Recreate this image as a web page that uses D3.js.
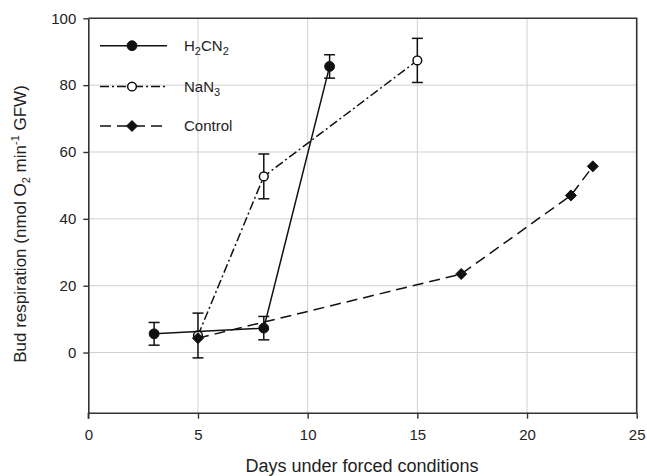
<!DOCTYPE html>
<html><head><meta charset="utf-8">
<script src="https://cdn.jsdelivr.net/npm/d3@7"></script>
<style>body{margin:0;background:#fff}svg{display:block}text{font-family:"Liberation Sans",Arial,sans-serif;fill:#222}</style>
</head><body><div id="chart"></div>
<script>
const xTicks = [0, 5, 10, 15, 20, 25];
const yTicks = [0, 20, 40, 60, 80, 100];
const h2cn2Days = [3, 8, 11];
const h2cn2Values = [5.6, 7.3, 85.6];
const h2cn2Errors = [3.4, 3.5, 3.5];
const nan3Days = [5, 8, 15];
const nan3Values = [5.1, 52.7, 87.4];
const nan3Errors = [6.7, 6.7, 6.6];
const controlDays = [5, 17, 22, 23];
const controlValues = [4.3, 23.5, 47.0, 55.7];
const controlErrors = [0, 0, 0, 0];

const W = 647, H = 476;
const m = {left: 88.3, right: 636.7, top: 18.3, bottom: 412.7};
const svg = d3.select("#chart").append("svg").attr("width", W).attr("height", H);
const x = d3.scaleLinear().domain([0, 25]).range([m.left, m.right]);
const y = d3.scaleLinear().domain([-18, 100]).range([m.bottom, m.top]);

// grid
const grid = svg.append("g").attr("stroke", "#d0d0d0").attr("stroke-width", 1);
grid.selectAll("line.vx").data(xTicks.filter(d => d > 0 && d < 25)).join("line")
  .attr("x1", d => x(d)).attr("x2", d => x(d)).attr("y1", m.top).attr("y2", m.bottom);
grid.selectAll("line.hy").data(yTicks.filter(d => d < 100)).join("line")
  .attr("y1", d => y(d)).attr("y2", d => y(d)).attr("x1", m.left).attr("x2", m.right);

// axes
const axisColor = "#333";
const xAxis = svg.append("g").attr("transform", `translate(0,${m.bottom})`)
  .call(d3.axisBottom(x).tickValues(xTicks).tickSize(6).tickPadding(11).tickSizeOuter(0));
const yAxis = svg.append("g").attr("transform", `translate(${m.left},0)`)
  .call(d3.axisLeft(y).tickValues(yTicks).tickSize(5).tickPadding(7).tickSizeOuter(0));
[xAxis, yAxis].forEach(a => {
  a.select(".domain").attr("stroke", axisColor).attr("stroke-width", 1.6);
  a.selectAll(".tick line").attr("stroke", axisColor).attr("stroke-width", 1.4);
  a.selectAll(".tick text").attr("font-size", 15).attr("fill", "#222")
   .style("font-family", '"Liberation Sans", Arial, sans-serif');
});
svg.append("line").attr("x1", m.left).attr("x2", m.left).attr("y1", m.bottom).attr("y2", m.bottom + 6)
  .attr("stroke", axisColor).attr("stroke-width", 1.4);
svg.append("path").attr("d", `M${m.left},${m.top}H${m.right}V${m.bottom}`)
  .attr("fill", "none").attr("stroke", axisColor).attr("stroke-width", 1.6);

// axis titles
svg.append("text").attr("x", 362).attr("y", 471.5).attr("text-anchor", "middle")
  .attr("font-size", 18).text("Days under forced conditions");
const yt = svg.append("text").attr("transform", `translate(25.5,224) rotate(-90)`)
  .attr("text-anchor", "middle").attr("font-size", 17);
yt.append("tspan").text("Bud respiration (nmol O");
yt.append("tspan").attr("font-size", 11).attr("dy", 4).text("2");
yt.append("tspan").attr("dy", -4).text(" min");
yt.append("tspan").attr("font-size", 11).attr("dy", -7).text("-1");
yt.append("tspan").attr("dy", 7).text(" GFW)");

const ink = "#111";
function series(days, vals, errs, dash, marker) {
  const pts = days.map((d, i) => ({x: d, y: vals[i], e: errs[i]}));
  const g = svg.append("g");
  g.append("path").datum(pts)
    .attr("d", d3.line().x(d => x(d.x)).y(d => y(d.y)))
    .attr("fill", "none").attr("stroke", ink).attr("stroke-width", 1.5)
    .attr("stroke-dasharray", dash);
  const eb = g.selectAll("g.eb").data(pts.filter(d => d.e > 0)).join("g")
    .attr("stroke", ink).attr("stroke-width", 1.5);
  eb.append("line").attr("x1", d => x(d.x)).attr("x2", d => x(d.x))
    .attr("y1", d => y(d.y + d.e)).attr("y2", d => y(d.y - d.e));
  eb.append("line").attr("x1", d => x(d.x) - 5.5).attr("x2", d => x(d.x) + 5.5)
    .attr("y1", d => y(d.y + d.e)).attr("y2", d => y(d.y + d.e));
  eb.append("line").attr("x1", d => x(d.x) - 5.5).attr("x2", d => x(d.x) + 5.5)
    .attr("y1", d => y(d.y - d.e)).attr("y2", d => y(d.y - d.e));
  g.selectAll("path.mk").data(pts).join("path")
    .attr("transform", d => `translate(${x(d.x)},${y(d.y)})`)
    .call(marker);
}
const filledCircle = s => s.attr("d", d3.symbol(d3.symbolCircle, 76)()).attr("fill", ink).attr("stroke", ink);
const openCircle = s => s.attr("d", d3.symbol(d3.symbolCircle, 60)()).attr("fill", "#fff").attr("stroke", ink).attr("stroke-width", 1.5);
const diamond = s => s.attr("d", "M0,-5.5L5.5,0L0,5.5L-5.5,0Z").attr("fill", ink).attr("stroke", ink);

series(nan3Days, nan3Values, nan3Errors, "9,3,2,3", openCircle);
series(controlDays, controlValues, controlErrors, "11,6", diamond);
series(h2cn2Days, h2cn2Values, h2cn2Errors, null, filledCircle);

// legend
const legend = [
  {name: ["H", "2", "CN", "2"], dash: null, mk: filledCircle},
  {name: ["NaN", "3"], dash: "9,3,2,3", mk: openCircle},
  {name: ["Control"], dash: "11,6", mk: diamond}
];
const ly = [45.7, 86.5, 126];
legend.forEach((l, i) => {
  const g = svg.append("g");
  g.append("line").attr("x1", 100).attr("x2", 167).attr("y1", ly[i]).attr("y2", ly[i])
    .attr("stroke", ink).attr("stroke-width", 1.5).attr("stroke-dasharray", l.dash);
  g.append("path").attr("transform", `translate(132,${ly[i]})`).call(l.mk);
  const t = g.append("text").attr("x", 184).attr("y", ly[i] + 5).attr("font-size", 15);
  l.name.forEach((s, k) => {
    if (k % 2 === 1) t.append("tspan").attr("font-size", 11).attr("dy", 4).text(s);
    else t.append("tspan").attr("dy", k === 0 ? 0 : -4).text(s);
  });
});
</script></body></html>
